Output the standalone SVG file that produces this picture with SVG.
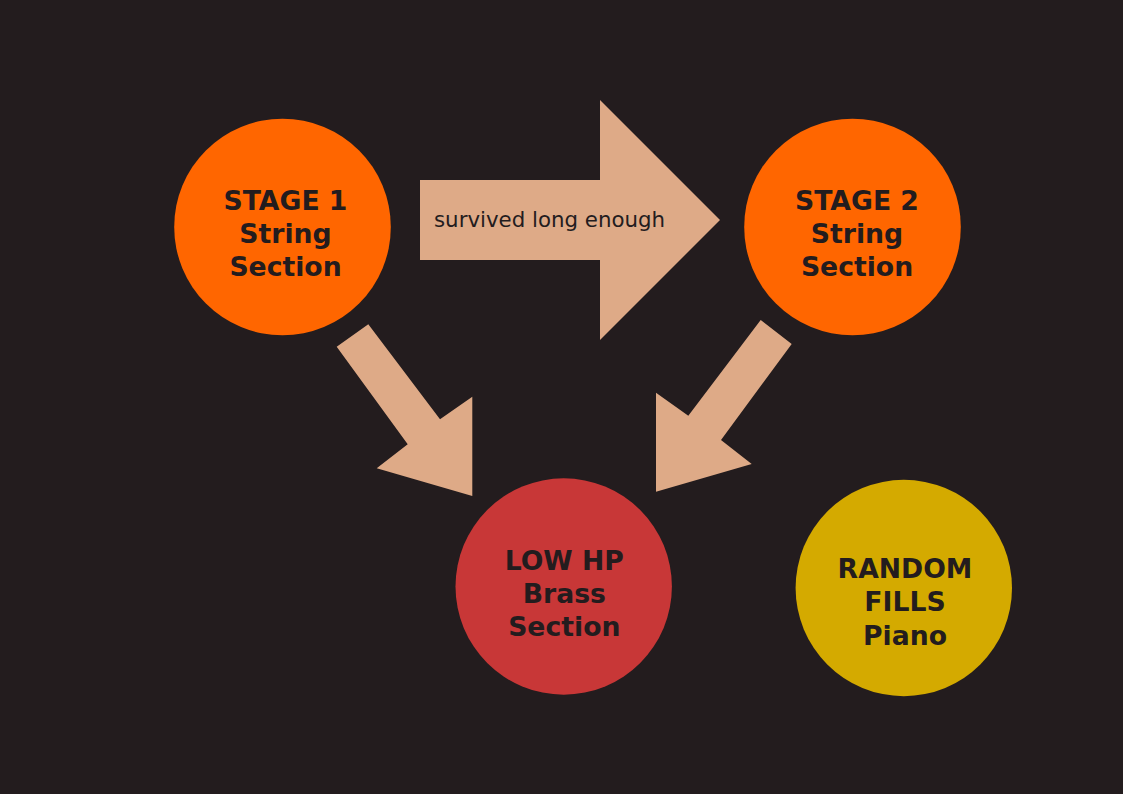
<svg xmlns="http://www.w3.org/2000/svg" width="1123" height="794" viewBox="0 0 1123 794">
<style>
.arrow{fill:#deaa87}
.node-text{font-family:"DejaVu Sans",sans-serif;font-weight:bold;font-size:26.67px;fill:#231c1e;text-anchor:middle}
.label{font-family:"DejaVu Sans",sans-serif;font-size:21.33px;fill:#231c1e}
</style>
<rect width="1123" height="794" fill="#231c1e"/>
<g id="connectors">
<g id="arrow-stage1-stage2">
<polygon class="arrow" points="420,180 600,180 600,100 720,220 600,340 600,260 420,260"/>
<text class="label" x="434" y="226.7">survived long enough</text>
</g>
<polygon id="arrow-stage1-lowhp" class="arrow" points="336.7,346.7 368.3,324.3 440,419.3 472.3,396.7 472.3,496 376.7,468.3 407.7,444.3"/>
<polygon id="arrow-stage2-lowhp" class="arrow" points="760.7,320 791.7,344 721,440 751.7,464 656,491.7 656,392.7 688.3,415.7"/>
</g>
<g id="stage1">
<circle cx="282.5" cy="227" r="108.3" fill="#ff6600"/>
<text class="node-text" x="285.5"><tspan x="285.5" y="210">STAGE 1</tspan><tspan x="285.5" y="243">String</tspan><tspan x="285.5" y="276">Section</tspan></text>
</g>
<g id="stage2">
<circle cx="852.5" cy="227" r="108.3" fill="#ff6600"/>
<text class="node-text" x="857"><tspan x="857" y="210">STAGE 2</tspan><tspan x="857" y="243">String</tspan><tspan x="857" y="276">Section</tspan></text>
</g>
<g id="lowhp">
<circle cx="563.7" cy="586.5" r="108.2" fill="#c83737"/>
<text class="node-text" x="564.3"><tspan x="564.3" y="570">LOW HP</tspan><tspan x="564.3" y="603">Brass</tspan><tspan x="564.3" y="636">Section</tspan></text>
</g>
<g id="random">
<circle cx="903.8" cy="588" r="108.2" fill="#d4aa00"/>
<text class="node-text" x="905"><tspan x="905" y="578.3">RANDOM</tspan><tspan x="905" y="611.3">FILLS</tspan><tspan x="905" y="644.5">Piano</tspan></text>
</g>
</svg>
